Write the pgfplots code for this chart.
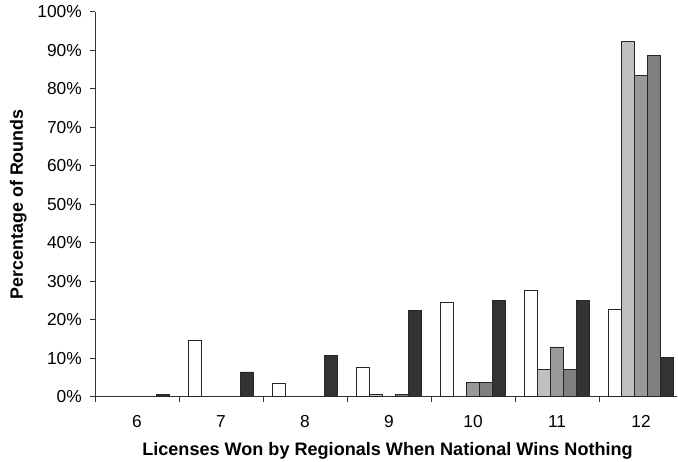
\documentclass[border=0pt]{standalone}
\usepackage{pgfplots}
\pgfplotsset{compat=1.18}
\usepackage{fontspec}
\setmainfont{Liberation Sans}
\definecolor{sA}{HTML}{FFFFFF}
\definecolor{sB}{HTML}{C0C0C0}
\definecolor{sC}{HTML}{999999}
\definecolor{sD}{HTML}{808080}
\definecolor{sE}{HTML}{333333}
\begin{document}
\begin{tikzpicture}
\begin{axis}[
  name=ax,
  scale only axis, width=436.5pt, height=288.4pt,
  xmin=5.5, xmax=12.4286, ymin=0, ymax=100,
  axis x line*=bottom, axis y line*=left,
  axis line style={line width=0.75pt, black!80},
  ybar=0pt, bar width=9.75pt,
  tick align=outside, major tick length=3.75pt,
  tick style={line width=0.75pt, black!80},
  font=\fontsize{13}{15.6}\selectfont,
  /pgf/number format/assume math mode=true,
  xtick={5.5,6.5,...,11.5}, xticklabels={},
  extra x ticks={6,7,8,9,10,11,12},
  extra x tick labels={6,7,8,9,10,11,12},
  extra x tick style={major tick length=0pt},
  xticklabel style={anchor=north, inner sep=0pt, yshift=-13.9pt},
  ytick={0,10,...,100},
  yticklabel={\pgfmathprintnumber{\tick}\%},
  yticklabel style={anchor=east, inner sep=0pt, xshift=-6pt},
  xlabel={\fontsize{13.55}{16}\selectfont\textbf{Licenses Won by Regionals When National Wins Nothing}},
  xlabel style={at={(axis description cs:0.5026,-0.1521)}, anchor=base},
  ylabel={\fontsize{13.4}{16}\selectfont\textbf{Percentage of Rounds}},
  ylabel style={at={(axis description cs:-0.124,0.5)}, anchor=base, rotate=0},
  every axis plot/.append style={draw=black!85, line width=0.6pt},
]
\addplot[fill=sA] coordinates {(7,14.5) (8,3.3) (9,7.5) (10,24.5) (11,27.7) (12,22.6)};
\addplot[fill=sB] coordinates {(9,0.6) (11,7.1) (12,92.3)};
\addplot[fill=sC] coordinates {(10,3.6) (11,12.9) (12,83.5)};
\addplot[fill=sD] coordinates {(9,0.6) (10,3.6) (11,7.1) (12,88.7)};
\addplot[fill=sE] coordinates {(6,0.6) (7,6.4) (8,10.7) (9,22.3) (10,25.0) (11,25.0) (12,10.1)};
\end{axis}
\pgfresetboundingbox
\path ([shift={(-71.25pt,-48.375pt)}]ax.south west) rectangle ([shift={(0.75pt,9pt)}]ax.north east);
\end{tikzpicture}
\end{document}
